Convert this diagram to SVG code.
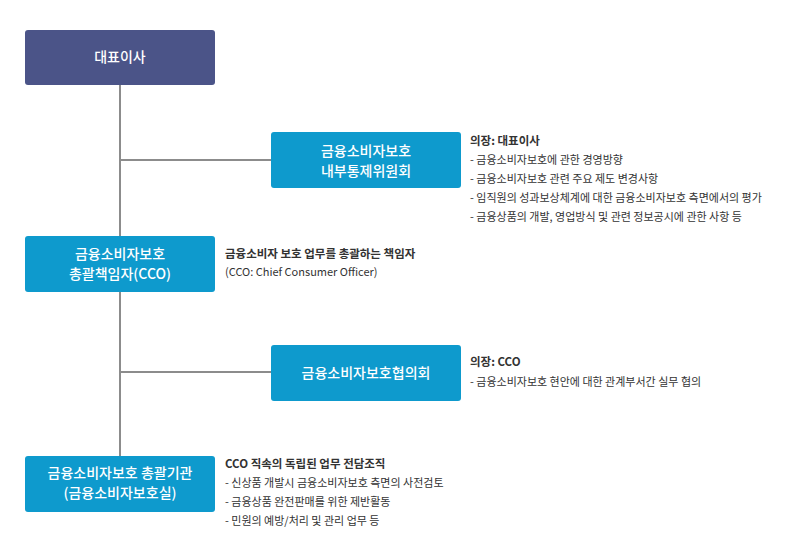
<svg xmlns="http://www.w3.org/2000/svg" width="785" height="550" viewBox="0 0 785 550">
<style>
.n{fill:#0e9acd}
.t{font-family:"Noto Sans CJK KR","Noto Sans",sans-serif;fill:#fff;font-size:14px;font-weight:500;text-anchor:middle}
.d{font-family:"Noto Sans CJK KR","Noto Sans",sans-serif;fill:#333;font-size:11px}
.b{font-weight:bold;font-size:11.5px}
.c{stroke:#8c8c8c;stroke-width:2;fill:none}
</style>
<rect width="785" height="550" fill="#fff"/>
<g id="connectors">
<path class="c" d="M120 85V456M120 160H272M120 372H272"/>
</g>
<g id="ceo"><rect x="25" y="30" width="190" height="55" rx="3" fill="#4b5488"/><text class="t" x="120" y="62">대표이사</text></g>
<g id="committee"><rect class="n" x="271" y="132" width="190" height="56" rx="3"/><text class="t" x="366" y="156">금융소비자보호</text><text class="t" x="366" y="176">내부통제위원회</text>
<text class="d b" x="470" y="145">의장: 대표이사</text>
<text class="d" x="470" y="164">- 금융소비자보호에 관한 경영방향</text>
<text class="d" x="470" y="183">- 금융소비자보호 관련 주요 제도 변경사항</text>
<text class="d" x="470" y="202">- 임직원의 성과보상체계에 대한 금융소비자보호 측면에서의 평가</text>
<text class="d" x="470" y="221">- 금융상품의 개발, 영업방식 및 관련 정보공시에 관한 사항 등</text></g>
<g id="cco"><rect class="n" x="25" y="236" width="190" height="56" rx="3"/><text class="t" x="120" y="259">금융소비자보호</text><text class="t" x="120" y="279">총괄책임자(CCO)</text>
<text class="d b" x="225" y="258">금융소비자 보호 업무를 총괄하는 책임자</text>
<text class="d" x="225" y="276">(CCO: Chief Consumer Officer)</text></g>
<g id="council"><rect class="n" x="271" y="345" width="190" height="56" rx="3"/><text class="t" x="366" y="378">금융소비자보호협의회</text>
<text class="d b" x="470" y="366">의장: CCO</text>
<text class="d" x="470" y="386">- 금융소비자보호 현안에 대한 관계부서간 실무 협의</text></g>
<g id="office"><rect class="n" x="25" y="456" width="190" height="56" rx="3"/><text class="t" x="120" y="478">금융소비자보호 총괄기관</text><text class="t" x="120" y="498">(금융소비자보호실)</text>
<text class="d b" x="225" y="468">CCO 직속의 독립된 업무 전담조직</text>
<text class="d" x="225" y="487">- 신상품 개발시 금융소비자보호 측면의 사전검토</text>
<text class="d" x="225" y="506">- 금융상품 완전판매를 위한 제반활동</text>
<text class="d" x="225" y="525">- 민원의 예방/처리 및 관리 업무 등</text></g>
</svg>
